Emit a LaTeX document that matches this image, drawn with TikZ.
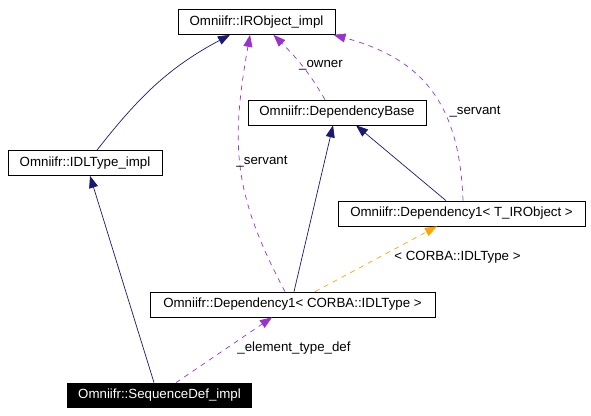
\documentclass[tikz,border=0pt]{standalone}
\usepackage{fontspec}
\setmainfont{Liberation Sans}
\usetikzlibrary{arrows.meta}
\definecolor{inhblue}{HTML}{191970}
\definecolor{usepurple}{HTML}{9A32CD}
\definecolor{tmplorange}{HTML}{FFA500}
\newcommand{\klass}[5]{\node [draw, inner sep=0pt, minimum width=#4pt, minimum height=25pt] (#1) at (#2,#3) {#5};}
\newcommand{\inherit}[2]{\draw[inhblue,->] (#1) -- (#2);}
\newcommand{\uses}[2]{\draw[usepurple,dash pattern=on 5pt off 5pt,->] (#1) -- (#2);}
\newcommand{\inst}[2]{\draw[tmplorange,dash pattern=on 5pt off 5pt,->] (#1) -- (#2);}

\begin{document}
\begin{tikzpicture}[x=1pt,y=1pt,line width=0.7pt,font=\fontsize{13.3}{16}\selectfont,
    >={Triangle[length=12pt,width=9pt]}]
    \useasboundingbox (0,0) rectangle (591,415);
    \klass{IRO}{256.5}{393}{157}{Omniifr::IRObject\_impl}
    \klass{DB}{337}{302.5}{178}{Omniifr::DependencyBase}
    \klass{IDL}{85}{252}{154}{Omniifr::IDLType\_impl}
    \klass{DT}{461.5}{201.5}{247}{Omniifr::Dependency1< T\_IRObject >}
    \klass{DC}{292.5}{110.5}{285}{Omniifr::Dependency1< CORBA::IDLType >}
    \node [fill=black, text=white, inner sep=0pt, minimum width=185pt, minimum height=25pt] (SD) at (159.5,19.5) {Omniifr::SequenceDef\_impl};

    \inherit{[xshift=-5.5pt]SD.north}{[xshift=5pt]IDL.south}
    \inherit{[xshift=1.5pt]DC.north}{[xshift=-4pt]DB.south}
    \inherit{[xshift=-15.5pt]DT.north}{[xshift=19pt]DB.south}
    \draw[inhblue,->] ([xshift=12pt]IDL.north) to[out=52,in=208] ([xshift=-26.5pt]IRO.south);

    \uses{[xshift=16.5pt]SD.north}{[xshift=-20.5pt]DC.south}
    \draw[usepurple,dash pattern=on 5pt off 5pt,->] ([xshift=-7.5pt]DC.north) to[out=118,in=-100,looseness=1.1] ([xshift=-6.5pt]IRO.south);
    \draw[usepurple,dash pattern=on 5pt off 5pt,->] ([xshift=-12pt]DB.north) to[out=120,in=-45] ([xshift=17pt]IRO.south);
    \draw[usepurple,dash pattern=on 5pt off 5pt,->] ([xshift=1.5pt]DT.north) to[out=92,in=-15,looseness=1.15] ([xshift=77pt]IRO.south);
    \inst{[xshift=22.5pt]DC.north}{[xshift=-24.5pt]DT.south}

    \node (servA) at (262,253) {\_servant};
    \node (owner) at (321,350) {\_owner};
    \node (servB) at (475,303) {\_servant};
    \node (corba) at (457.5,158) {< CORBA::IDLType >};
    \node (elem) at (294,67) {\_element\_type\_def};
\end{tikzpicture}
\end{document}
